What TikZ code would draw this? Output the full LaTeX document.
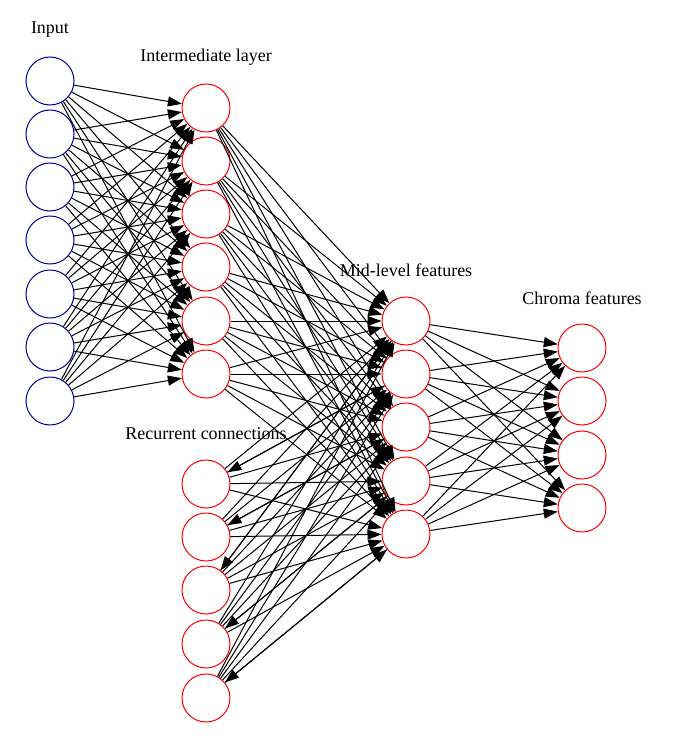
\documentclass[tikz,border=0pt]{standalone}
\usepackage{fontspec}
\setmainfont{Liberation Serif}
\usetikzlibrary{arrows.meta}
\begin{document}
\begin{tikzpicture}[
  x=1pt, y=-1pt,
  inunit/.style={circle, draw=blue!60!black, line width=1pt, minimum size=48pt, inner sep=0pt},
  unit/.style={circle, draw=red, line width=1pt, minimum size=48pt, inner sep=0pt},
  layername/.style={font=\fontsize{18}{20}\selectfont},
  conn/.style={-{Triangle[length=14pt,width=10pt]}, line width=1pt}
]
\useasboundingbox (0,0) rectangle (672,749);

% --- Input ---
\foreach \i/\y in {1/81,2/134,3/187,4/240,5/294,6/347,7/401}
  \node[inunit] (I\i) at (50,\y) {};

% --- Intermediate layer ---
\foreach \i/\y in {1/108,2/161,3/214,4/267,5/321,6/374}
  \node[unit] (H\i) at (206,\y) {};

% --- Mid-level features ---
\foreach \i/\y in {1/321,2/374,3/427,4/481,5/534}
  \node[unit] (M\i) at (406,\y) {};

% --- Chroma features ---
\foreach \i/\y in {1/348,2/401,3/455,4/508}
  \node[unit] (C\i) at (582,\y) {};

% --- Recurrent connections ---
\foreach \i/\y in {1/484,2/537,3/590,4/644,5/698}
  \node[unit] (R\i) at (206,\y) {};

% --- Layer names ---
\node[layername] (tIn) at (50,30) {Input};
\node[layername] (tHid) at (206,57) {Intermediate layer};
\node[layername] (tMid) at (406,270) {Mid-level features};
\node[layername] (tChr) at (582,298) {Chroma features};
\node[layername] (tRec) at (206,434) {Recurrent connections};

% --- Edges ---
\foreach \a in {1,...,7}
  \foreach \b in {1,...,6}
    \draw[conn] (I\a) -- (H\b);
\foreach \a in {1,...,6}
  \foreach \b in {1,...,5}
    \draw[conn] (H\a) -- (M\b);
\foreach \a in {1,...,5}
  \foreach \b in {1,...,4}
    \draw[conn] (M\a) -- (C\b);
\foreach \a in {1,...,5}
  \foreach \b in {1,...,5}
    \draw[conn] (R\a) -- (M\b);

% --- Feedback into the recurrent units ---
\draw[conn] (M2) -- (R1);
\draw[conn] (M3) -- (R2);
\draw[conn] (M1) -- (R3);
\draw[conn] (M4) -- (R4);
\draw[conn] (M5) -- (R5);

\end{tikzpicture}
\end{document}
